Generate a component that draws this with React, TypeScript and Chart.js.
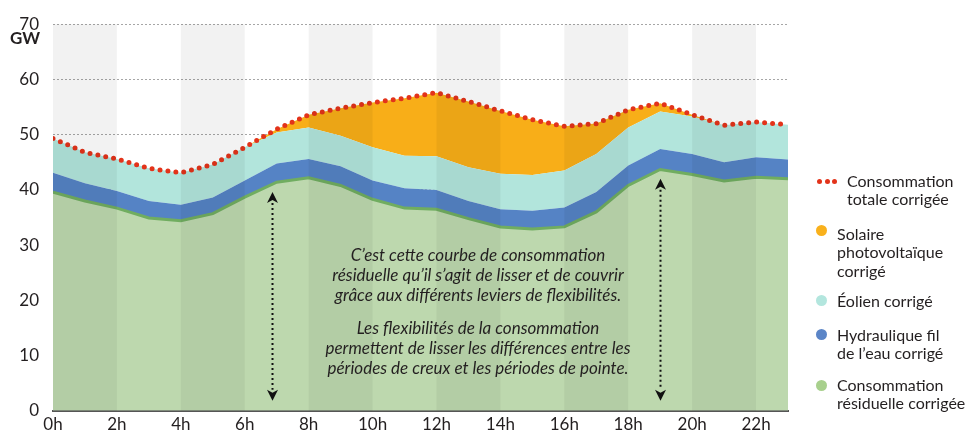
import React, { useEffect, useRef } from 'react';
import { Chart, registerables } from 'chart.js';
Chart.register(...registerables);

const hours = [0, 1, 2, 3, 4, 5, 6, 7, 8, 9, 10, 11, 12, 13, 14, 15, 16, 17, 18, 19, 20, 21, 22, 23];
const xTickLabels = ['0h', '2h', '4h', '6h', '8h', '10h', '12h', '14h', '16h', '18h', '20h', '22h'];
const yTickValues = [0, 10, 20, 30, 40, 50, 60, 70];

const residuelle = [39.6, 38.0, 36.7, 34.9, 34.4, 35.7, 38.7, 41.4, 42.2, 40.8, 38.3, 36.7, 36.5, 34.8, 33.3, 32.9, 33.3, 36.0, 40.8, 43.7, 42.8, 41.6, 42.3, 42.0];
const hydraulique = [3.5, 3.2, 3.1, 3.1, 2.9, 2.9, 3.0, 3.4, 3.4, 3.5, 3.4, 3.6, 3.5, 3.2, 3.2, 3.3, 3.5, 3.6, 3.6, 3.7, 3.7, 3.4, 3.6, 3.5];
const eolien = [6.2, 5.6, 5.8, 5.9, 5.8, 6.0, 6.0, 5.6, 5.7, 5.5, 6.0, 5.9, 6.1, 6.1, 6.4, 6.5, 6.7, 6.9, 6.9, 6.8, 6.8, 6.7, 6.4, 6.3];
const solaire = [0, 0, 0, 0, 0, 0, 0, 0.6, 2.3, 5.0, 8.1, 10.4, 11.5, 11.9, 11.4, 10.0, 8.0, 5.5, 3.2, 1.5, 0.3, 0, 0, 0];
const totale = [49.3, 46.8, 45.6, 43.9, 43.1, 44.6, 47.7, 51.0, 53.6, 54.8, 55.8, 56.6, 57.6, 56.0, 54.3, 52.7, 51.5, 52.0, 54.5, 55.7, 53.6, 51.7, 52.3, 51.8];

const bandStarts = [0, 4, 8, 12, 16, 20];
const bandWidth = 2;
const arrowHours = [6.85, 19];
const arrowTops = [39.6, 42.0];
const arrowBottom = 1.8;

const FONT = 'Lato, "Open Sans", sans-serif';
const TEXT = '#231f20';

const pts = (vals: number[]) => hours.map((h, i) => ({ x: h, y: vals[i] }));

const overlayPlugin = {
  id: 'overlay',
  afterDatasetsDraw(chart: any) {
    const { ctx, chartArea, scales } = chart;
    const xs = scales.x;
    const ys = scales.y;
    ctx.save();
    ctx.fillStyle = 'rgba(0,0,0,0.05)';
    bandStarts.forEach((b) => {
      const x0 = xs.getPixelForValue(b);
      const x1 = Math.min(xs.getPixelForValue(b + bandWidth), chartArea.right);
      ctx.fillRect(x0, chartArea.top, x1 - x0, chartArea.bottom - chartArea.top);
    });
    // arrows
    arrowHours.forEach((h, i) => {
      const x = Math.round(xs.getPixelForValue(h)) + 0.5;
      const yTop = ys.getPixelForValue(arrowTops[i]);
      const yBot = ys.getPixelForValue(arrowBottom);
      const head = 11;
      ctx.strokeStyle = '#111';
      ctx.lineWidth = 2;
      ctx.setLineDash([2, 3]);
      ctx.beginPath();
      ctx.moveTo(x, yTop + head);
      ctx.lineTo(x, yBot - head);
      ctx.stroke();
      ctx.setLineDash([]);
      ctx.fillStyle = '#111';
      const drawHead = (tipY: number, dir: number) => {
        ctx.beginPath();
        ctx.moveTo(x, tipY);
        ctx.lineTo(x - 5.5, tipY + dir * head);
        ctx.lineTo(x, tipY + dir * (head - 3));
        ctx.lineTo(x + 5.5, tipY + dir * head);
        ctx.closePath();
        ctx.fill();
      };
      drawHead(yTop, 1);
      drawHead(yBot, -1);
    });
    ctx.restore();
  },
};

const legendItems = [
  { kind: 'dots', color: '#e3331a', lines: ['Consommation', 'totale corrigée'], top: 171.5, circleY: 181 },
  { kind: 'circle', color: '#f9b11c', lines: ['Solaire', 'photovoltaïque', 'corrigé'], top: 224.5, circleY: 230 },
  { kind: 'circle', color: '#b3e6de', lines: ['Éolien corrigé'], top: 291.5, circleY: 300 },
  { kind: 'circle', color: '#5b85c7', lines: ['Hydraulique fil', 'de l’eau corrigé'], top: 325.5, circleY: 334 },
  { kind: 'circle', color: '#a8d08d', lines: ['Consommation', 'résiduelle corrigée'], top: 375.5, circleY: 385 },
];

const annotation1 = ['C’est cette courbe de consommation', 'résiduelle qu’il s’agit de lisser et de couvrir', 'grâce aux différents leviers de flexibilités.'];
const annotation2 = ['Les flexibilités de la consommation', 'permettent de lisser les différences entre les', 'périodes de creux et les périodes de pointe.'];

export default function App() {
  const ref = useRef<HTMLCanvasElement>(null);
  useEffect(() => {
    if (!ref.current) return;
    const chart = new Chart(ref.current, {
      type: 'line',
      data: {
        datasets: [
          {
            label: 'Consommation résiduelle corrigée',
            data: pts(residuelle),
            backgroundColor: 'rgb(189,216,174)',
            borderColor: 'rgb(112,173,96)',
            borderWidth: 3,
            fill: 'origin',
            pointRadius: 0,
            tension: 0,
          },
          {
            label: 'Hydraulique fil de l’eau corrigé',
            data: pts(hydraulique),
            backgroundColor: 'rgb(85,131,197)',
            borderColor: 'rgba(0,0,0,0)',
            borderWidth: 0,
            fill: '-1',
            pointRadius: 0,
            tension: 0,
          },
          {
            label: 'Éolien corrigé',
            data: pts(eolien),
            backgroundColor: 'rgb(178,229,220)',
            borderColor: 'rgba(0,0,0,0)',
            borderWidth: 0,
            fill: '-1',
            pointRadius: 0,
            tension: 0,
          },
          {
            label: 'Solaire photovoltaïque corrigé',
            data: pts(solaire),
            backgroundColor: 'rgb(248,174,24)',
            borderColor: 'rgba(0,0,0,0)',
            borderWidth: 0,
            fill: '-1',
            pointRadius: 0,
            tension: 0,
          },
          {
            label: 'Consommation totale corrigée',
            data: pts(totale),
            stack: 'totale',
            order: -1,
            borderColor: '#e3331a',
            borderWidth: 5,
            borderDash: [0, 8],
            borderCapStyle: 'round',
            fill: false,
            pointRadius: 0,
            tension: 0,
          } as any,
        ],
      },
      options: {
        responsive: false,
        animation: false,
        devicePixelRatio: 1,
        layout: { padding: { top: 23, right: 178, left: 0, bottom: 0 } },
        plugins: { legend: { display: false }, tooltip: { enabled: false } },
        scales: {
          x: {
            type: 'linear',
            min: 0,
            max: 23,
            stacked: true,
            grid: { display: false, drawTicks: false },
            border: { display: true, color: '#555', width: 2 },
            afterFit: (s: any) => { s.height = 23; },
            afterBuildTicks: (s: any) => { s.ticks = xTickLabels.map((_, i) => ({ value: i * 2 })); },
            ticks: {
              padding: 4,
              color: TEXT,
              font: { family: FONT, size: 17 },
              maxRotation: 0,
              autoSkip: false,
              callback: (v: any) => xTickLabels[Math.round(Number(v) / 2)] ?? '',
            },
          },
          y: {
            min: 0,
            max: 70,
            stacked: true,
            z: 1,
            afterFit: (s: any) => { s.width = 53; },
            afterBuildTicks: (s: any) => { s.ticks = yTickValues.map((v) => ({ value: v })); },
            grid: {
              drawTicks: false,
              color: (c: any) => (c.tick && c.tick.value === 0 ? 'rgba(0,0,0,0)' : '#a6a6a6'),
              lineWidth: 1,
            },
            border: { display: false, dash: [2, 2] },
            ticks: {
              padding: 14,
              color: TEXT,
              font: { family: FONT, size: 17 },
              callback: (v: any) => String(v),
            },
          },
        },
      },
      plugins: [overlayPlugin],
    });
    return () => chart.destroy();
  }, []);

  return (
    <div style={{ position: 'fixed', left: 0, top: 0, width: 966, height: 435, background: '#fff', fontFamily: FONT, color: TEXT }}>
      <canvas ref={ref} width={966} height={435} style={{ display: 'block', width: 966, height: 435 }} />
      <div style={{ position: 'absolute', left: 10, top: 29, fontSize: 17, fontWeight: 700, lineHeight: '17px' }}>GW</div>
      <div style={{ position: 'absolute', left: 278, width: 400, top: 245.4, fontSize: 17, fontStyle: 'italic', lineHeight: '20px', textAlign: 'center', whiteSpace: 'nowrap' }}>
        {annotation1.map((l, i) => <div key={i}>{l}</div>)}
      </div>
      <div style={{ position: 'absolute', left: 278, width: 400, top: 318.4, fontSize: 17, fontStyle: 'italic', lineHeight: '20px', textAlign: 'center', whiteSpace: 'nowrap' }}>
        {annotation2.map((l, i) => <div key={i}>{l}</div>)}
      </div>
      {legendItems.map((it, i) => (
        <React.Fragment key={i}>
          {it.kind === 'dots' ? (
            [0, 1, 2].map((k) => (
              <div key={k} style={{ position: 'absolute', left: 817 + k * 7.5, top: it.circleY - 2.5, width: 5, height: 5, borderRadius: '50%', background: it.color }} />
            ))
          ) : (
            <div style={{ position: 'absolute', left: 816, top: it.circleY - 5.5, width: 11, height: 11, borderRadius: '50%', background: it.color }} />
          )}
          <div style={{ position: 'absolute', left: it.kind === 'dots' ? 847 : 837, top: it.top, fontSize: 16, lineHeight: '18.5px', whiteSpace: 'nowrap' }}>
            {it.lines.map((l, j) => <div key={j}>{l}</div>)}
          </div>
        </React.Fragment>
      ))}
    </div>
  );
}
